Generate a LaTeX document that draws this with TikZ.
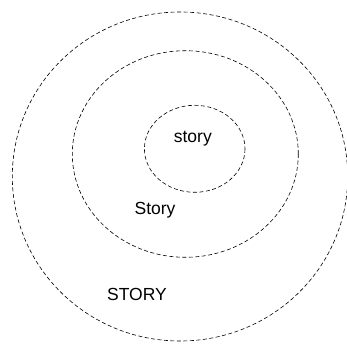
\documentclass[tikz,border=0pt]{standalone}
\usepackage{fontspec}
\setmainfont{Liberation Sans}
\usepackage{tikz}
\usetikzlibrary{arrows.meta}

\tikzset{ring/.style={dashed,dash pattern=on 4pt off 2.5pt,line width=0.6pt},
word/.style={anchor=base,inner sep=0pt,font=\fontsize{17.5}{20}\selectfont}}

\begin{document}
\begin{tikzpicture}[x=1pt,y=-1pt]
\useasboundingbox(0,0)rectangle(347,344);
\draw[ring](180,176.5)ellipse[x radius=167.7,y radius=164.5]
(185.3,154)ellipse[x radius=113,y radius=103.3]
(194.7,148.8)ellipse[x radius=50.3,y radius=43.5];
\node[word](inner)at(192.8,143){story};
\node[word](middle)at(155,214.7){Story};
\node[word](outer)at(137,300){STORY};
\end{tikzpicture}
\end{document}
